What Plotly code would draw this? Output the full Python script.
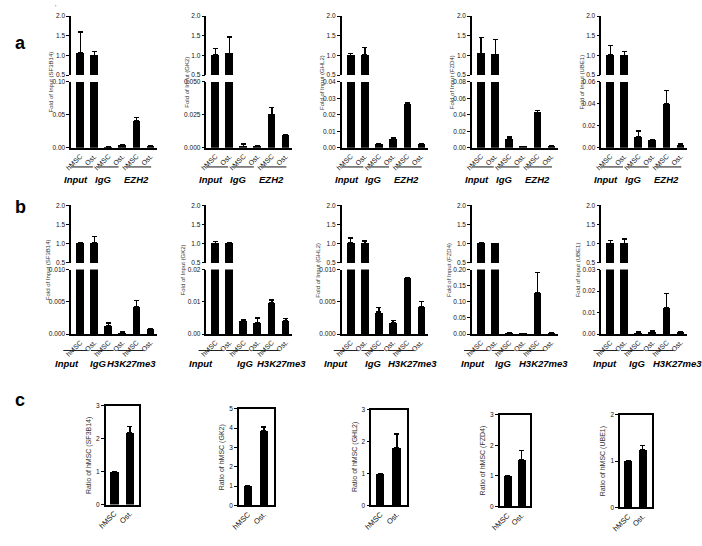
import plotly.graph_objects as go

W, H = 702, 546
FONT = "Liberation Sans, Arial, sans-serif"

# ---------------- data ----------------
genes = ["SF3B14", "GK2", "GHL2", "FZD4", "UBE1"]
cells = ["hMSC", "Ost."]
groups_a = ["Input", "IgG", "EZH2"]
groups_b = ["Input", "IgG", "H3K27me3"]
bar_labels = cells * 3   # Input hMSC, Input Ost., IgG hMSC, IgG Ost., ChIP hMSC, ChIP Ost.

# panel a : EZH2 ChIP, fold of input
a_SF3B14 = [1.07, 1.00, 0.0012, 0.0045, 0.041, 0.0022]
a_SF3B14_err = [0.53, 0.10, 0.0002, 0.0006, 0.005, 0.0004]
a_GK2 = [1.02, 1.05, 0.0012, 0.0015, 0.0254, 0.0098]
a_GK2_err = [0.15, 0.42, 0.0018, 0.0004, 0.0052, 0.0004]
a_GHL2 = [1.00, 1.02, 0.0021, 0.0056, 0.0265, 0.0024]
a_GHL2_err = [0.05, 0.18, 0.0002, 0.0007, 0.0008, 0.0004]
a_FZD4 = [1.05, 1.03, 0.0108, 0.0012, 0.0430, 0.0018]
a_FZD4_err = [0.40, 0.37, 0.0025, 0.0002, 0.0025, 0.0003]
a_UBE1 = [1.02, 1.00, 0.0098, 0.0073, 0.040, 0.0030]
a_UBE1_err = [0.23, 0.10, 0.0055, 0.0003, 0.012, 0.0004]

# panel b : H3K27me3 ChIP, fold of input
b_SF3B14 = [1.00, 1.02, 0.0013, 0.0003, 0.0043, 0.0008]
b_SF3B14_err = [0.02, 0.17, 0.0004, 0.00005, 0.0009, 0.0001]
b_GK2 = [1.00, 1.00, 0.0042, 0.0035, 0.0098, 0.0042]
b_GK2_err = [0.05, 0.03, 0.0002, 0.0015, 0.0008, 0.0006]
b_GHL2 = [1.02, 1.00, 0.0034, 0.0018, 0.0087, 0.0043]
b_GHL2_err = [0.13, 0.07, 0.0007, 0.0003, 0.0001, 0.0007]
b_FZD4 = [1.00, 1.00, 0.004, 0.002, 0.128, 0.004]
b_FZD4_err = [0.03, 0.01, 0.001, 0.0005, 0.063, 0.001]
b_UBE1 = [1.00, 1.00, 0.0008, 0.0012, 0.0122, 0.0011]
b_UBE1_err = [0.09, 0.12, 0.0001, 0.0002, 0.0066, 0.0002]

# panel c : ratio of hMSC
c_hMSC = [1, 1, 1, 1, 1]
c_Ost = [2.18, 3.88, 1.82, 1.52, 1.25]
c_Ost_err = [0.20, 0.17, 0.42, 0.30, 0.08]

a_vals = [a_SF3B14, a_GK2, a_GHL2, a_FZD4, a_UBE1]
a_errs = [a_SF3B14_err, a_GK2_err, a_GHL2_err, a_FZD4_err, a_UBE1_err]
b_vals = [b_SF3B14, b_GK2, b_GHL2, b_FZD4, b_UBE1]
b_errs = [b_SF3B14_err, b_GK2_err, b_GHL2_err, b_FZD4_err, b_UBE1_err]

# axis settings (lower, broken part)
a_ymax = [0.10, 0.050, 0.04, 0.08, 0.06]
a_dtick = [0.05, 0.025, 0.01, 0.02, 0.02]
a_fmt = [".2f", ".3f", ".2f", ".2f", ".2f"]
b_ymax = [0.010, 0.02, 0.010, 0.20, 0.03]
b_dtick = [0.005, 0.01, 0.005, 0.05, 0.01]
b_fmt = [".3f", ".2f", ".3f", ".2f", ".2f"]
c_ymax = [3, 5, 3, 3, 2]

# ---------------- layout geometry (pixels) ----------------
ax_left = [63, 200, 337, 469, 600]
ax_w = 87
rows = {
    "a": dict(top=(12.3, 72), bot=(79, 145.7), line_y=165, lab_y=178,
              line_seg=[(0, 22), (26, 48), (55, 81)], line_col="#7a7a7a", line_w=1.8,
              lab_off=[[5, 32, 66]] * 5, groups=groups_a),
    "b": dict(top=(204, 262.3), bot=(269, 334.3), line_y=351, lab_y=364,
              line_seg=[(-8, 16), (20, 43), (47, 73)], line_col="#222", line_w=1.0,
              lab_off=[[-4, 27, 61.5], [-5.5, 39, 76.5], [-5.5, 32, 71.5],
                       [1.5, 31, 72.5], [3.5, 36, 77.5]], groups=groups_b),
}
c_box_x = [(98, 132), (233, 268), (367, 403), (497, 528), (619, 651)]
c_box_y = [(407, 507), (410, 508), (411, 508), (416, 509), (416, 510)]

fig = go.Figure()
layout = {}
annotations = []
shapes = []
counter = [0]


def new_axes(xpx, ypx, xkw, ykw):
    counter[0] += 1
    i = counter[0]
    s = "" if i == 1 else str(i)
    layout["xaxis" + s] = dict(domain=[xpx[0] / W, xpx[1] / W], anchor="y" + s, **xkw)
    layout["yaxis" + s] = dict(domain=[1 - ypx[1] / H, 1 - ypx[0] / H], anchor="x" + s, **ykw)
    return "x" + s, "y" + s


ybase = dict(showline=True, linecolor="black", linewidth=1.5, ticks="outside", ticklen=3,
             tickwidth=1.2, tickcolor="black", showgrid=False, zeroline=False,
             tickfont=dict(size=6.5, color="#111", family=FONT))
XR = [-0.65, 5.45]


def bar_trace(xa, ya, xs, vals, errs, width):
    return go.Bar(x=xs, y=vals, width=width, marker=dict(color="black", line=dict(width=0)),
                  error_y=dict(type="data", symmetric=False, array=errs,
                               arrayminus=[0] * len(errs), color="black",
                               thickness=1.3, width=2.5),
                  xaxis=xa, yaxis=ya, showlegend=False, hoverinfo="skip")


for rk, vals_all, errs_all, ymaxs, dticks, fmts in [
        ("a", a_vals, a_errs, a_ymax, a_dtick, a_fmt),
        ("b", b_vals, b_errs, b_ymax, b_dtick, b_fmt)]:
    R = rows[rk]
    for p in range(5):
        L = ax_left[p]
        xs = list(range(6))
        # upper segment 0.5 - 2.0
        xa, ya = new_axes((L, L + ax_w), R["top"],
                          dict(range=XR, visible=False, fixedrange=True),
                          dict(ybase, range=[0.4999, 2.0001], tickvals=[0.5, 1.0, 1.5, 2.0],
                               tickformat=".1f"))
        fig.add_trace(bar_trace(xa, ya, xs, vals_all[p], errs_all[p], 0.56))
        # lower segment
        xa, ya = new_axes((L, L + ax_w), R["bot"],
                          dict(range=XR, showline=True, linecolor="black", linewidth=1.5,
                               ticks="", tickvals=xs, ticktext=bar_labels, tickangle=-45,
                               tickfont=dict(size=7, color="#111", family=FONT),
                               showgrid=False, zeroline=False, fixedrange=True),
                          dict(ybase, range=[0, ymaxs[p] * 1.0001], tick0=0, dtick=dticks[p],
                               tickformat=fmts[p]))
        fig.add_trace(bar_trace(xa, ya, xs, vals_all[p], errs_all[p], 0.56))
        # y-axis title
        yc = (R["top"][0] + R["bot"][1]) / 2
        annotations.append(dict(text=f"Fold of Input ({genes[p]})", x=(L - (20 if rk == "a" else 24)) / W,
                                y=1 - yc / H, xref="paper", yref="paper", textangle=-90,
                                showarrow=False, xanchor="center", yanchor="middle",
                                font=dict(size=6, color="#333", family=FONT)))
        # group underlines and labels
        for g in range(3):
            s0, s1 = R["line_seg"][g]
            shapes.append(dict(type="line", xref="paper", yref="paper",
                               x0=(L + s0) / W, x1=(L + s1) / W,
                               y0=1 - R["line_y"] / H, y1=1 - R["line_y"] / H,
                               line=dict(color=R["line_col"], width=R["line_w"])))
            annotations.append(dict(text=f"<b><i>{R['groups'][g]}</i></b>",
                                    x=(L + R["lab_off"][p][g]) / W, y=1 - R["lab_y"] / H,
                                    xref="paper", yref="paper", showarrow=False,
                                    xanchor="center", yanchor="middle",
                                    font=dict(size=9.5, color="black", family=FONT)))

# panel c
for p in range(5):
    xa, ya = new_axes(c_box_x[p], c_box_y[p],
                      dict(range=[-0.55, 1.6], showline=True, mirror=True, linecolor="black",
                           linewidth=1.5, ticks="", tickvals=[0, 1], ticktext=cells,
                           tickangle=-45, tickfont=dict(size=7.5, color="#111", family=FONT),
                           showgrid=False, zeroline=False, fixedrange=True),
                      dict(ybase, mirror=True, range=[0, c_ymax[p] * 1.0001], tick0=0, dtick=1,
                           tickformat="d", tickfont=dict(size=6.5, color="#111", family=FONT)))
    fig.add_trace(bar_trace(xa, ya, [0, 1], [c_hMSC[p], c_Ost[p]], [0, c_Ost_err[p]], 0.53))
    yc = (c_box_y[p][0] + c_box_y[p][1]) / 2
    annotations.append(dict(text=f"Ratio of hMSC ({genes[p]})", x=(c_box_x[p][0] - 17) / W,
                            y=1 - yc / H, xref="paper", yref="paper", textangle=-90,
                            showarrow=False, xanchor="center", yanchor="middle",
                            font=dict(size=7, color="#333", family=FONT)))

# panel letters
for letter, ypx in [("a", 40), ("b", 206), ("c", 401)]:
    annotations.append(dict(text=f"<b>{letter}</b>", x=4 / W, y=1 - ypx / H, xref="paper",
                            yref="paper", showarrow=False, xanchor="left", yanchor="middle",
                            font=dict(size=18, color="black", family=FONT)))
annotations.append(dict(text="ʼ", x=47 / W, y=1 - 3 / H, xref="paper", yref="paper",
                        showarrow=False, xanchor="center", yanchor="middle",
                        font=dict(size=6, color="black", family=FONT)))

fig.update_layout(width=W, height=H, margin=dict(l=0, r=0, t=0, b=0),
                  paper_bgcolor="white", plot_bgcolor="rgba(0,0,0,0)",
                  annotations=annotations, shapes=shapes, bargap=0, **layout)

fig.write_html("out.html", config={"displayModeBar": False})
